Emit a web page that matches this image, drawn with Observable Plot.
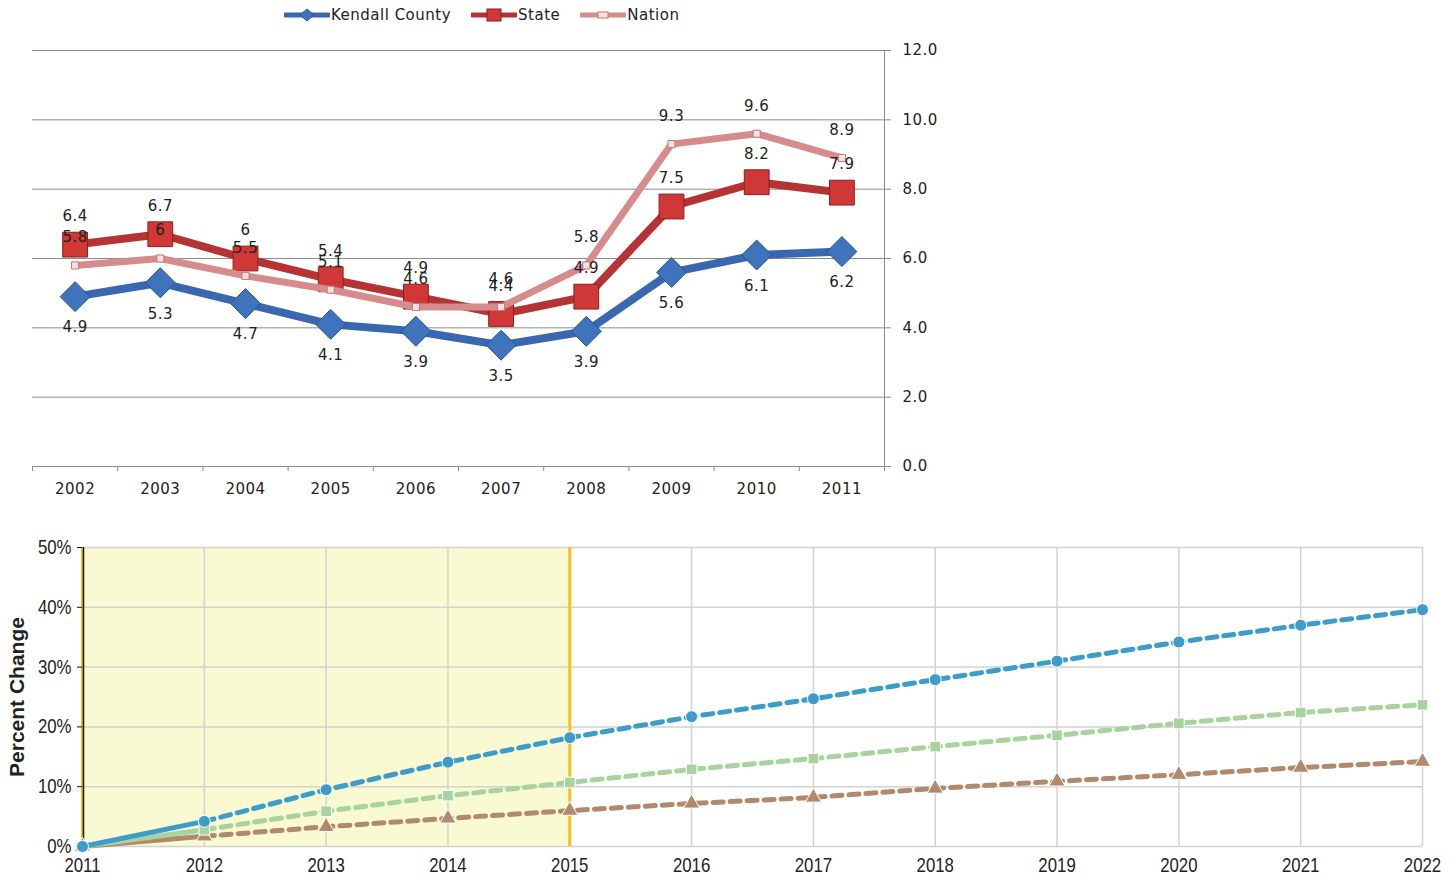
<!DOCTYPE html>
<html><head><meta charset="utf-8">
<script src="https://cdn.jsdelivr.net/npm/d3@7"></script>
<script src="https://cdn.jsdelivr.net/npm/@observablehq/plot@0.6"></script>
<style>
body{margin:0;background:#fff;width:1455px;height:876px;position:relative;overflow:hidden;font-family:"DejaVu Sans",Verdana,sans-serif}
#legend{position:absolute;top:6px;left:284px;display:flex;align-items:center;font-size:15px;letter-spacing:0.5px;color:#222;white-space:nowrap}
#legend .item{display:flex;align-items:center;margin-right:20px}
#legend svg{display:block;margin-right:1px}
#topChart{position:absolute;left:0;top:30px}
#topChart text{letter-spacing:0.5px}
#bottomChart{position:absolute;left:0;top:530px}
#bottomChart g[aria-label="y-axis label"] text{font-weight:bold;font-size:21px;font-family:"Liberation Sans",Arial,sans-serif}
</style></head><body>
<div id="legend"></div><div id="topChart"></div><div id="bottomChart"></div>
<script>
// ---------- Top chart data (unemployment rate) ----------
const years = [2002, 2003, 2004, 2005, 2006, 2007, 2008, 2009, 2010, 2011];
const kendall = [4.9, 5.3, 4.7, 4.1, 3.9, 3.5, 3.9, 5.6, 6.1, 6.2];
const state   = [6.4, 6.7, 6.0, 5.4, 4.9, 4.4, 4.9, 7.5, 8.2, 7.9];
const nation  = [5.8, 6.0, 5.5, 5.1, 4.6, 4.6, 5.8, 9.3, 9.6, 8.9];
const seriesNames = ["Kendall County", "State", "Nation"];
const rateTicks = [0, 2, 4, 6, 8, 10, 12];

// ---------- Bottom chart data (projected percent change) ----------
const projYears = [2011, 2012, 2013, 2014, 2015, 2016, 2017, 2018, 2019, 2020, 2021, 2022];
const projBlue  = [0, 4.2, 9.5, 14.1, 18.2, 21.7, 24.7, 27.9, 31.0, 34.2, 37.0, 39.6];
const projGreen = [0, 2.8, 5.9, 8.5, 10.7, 12.9, 14.7, 16.7, 18.6, 20.6, 22.4, 23.7];
const projBrown = [0, 1.7, 3.3, 4.7, 6.0, 7.2, 8.2, 9.7, 10.9, 12.0, 13.2, 14.2];
const pctTicks = [0, 10, 20, 30, 40, 50];
const historicalSpan = [2011, 2015];

// ---------- Legend ----------
const C = {k: "#3a68b0", kDot: "#3f74bd", kDotS: "#2a5394",
           s: "#b53333", sDot: "#d03838", sDotS: "#8c1f1f",
           n: "#d68c8c", nDot: "#f6e2e2", nDotS: "#c47474"};
const legendItems = [
  {name: seriesNames[0], line: C.k, marker: `<path d="M23,1 L30,7 L23,13 L16,7Z" fill="${C.kDot}" stroke="${C.kDotS}"/>`},
  {name: seriesNames[1], line: C.s, marker: `<rect x="16" y="1" width="14" height="12" fill="${C.sDot}" stroke="${C.sDotS}"/>`},
  {name: seriesNames[2], line: C.n, marker: `<rect x="18" y="4" width="10" height="6" fill="${C.nDot}" stroke="${C.nDotS}"/>`}
];
document.getElementById("legend").innerHTML = legendItems.map(it =>
  `<div class="item"><svg width="46" height="14"><line x1="1" x2="45" y1="7" y2="7" stroke="${it.line}" stroke-width="5" stroke-linecap="round"/>${it.marker}</svg><span>${it.name}</span></div>`
).join("");

// ---------- Top chart ----------
const toRows = (vals, name) => years.map((y, i) => ({year: y, value: vals[i], series: name}));
const kRows = toRows(kendall, seriesNames[0]);
const sRows = toRows(state, seriesNames[1]);
const nRows = toRows(nation, seriesNames[2]);
const bounds = d3.range(years.length + 1).map(i => years[0] - 0.5 + i);
const gridCol = "#8c8c8c";

const chartTop = Plot.plot({
  width: 960, height: 480,
  marginLeft: 32, marginRight: 76, marginTop: 20, marginBottom: 44,
  x: {type: "linear", domain: [bounds[0], bounds[bounds.length - 1]], label: null},
  y: {domain: [rateTicks[0], rateTicks[rateTicks.length - 1]], label: null},
  style: {fontFamily: "DejaVu Sans, Verdana, sans-serif", fontSize: "15px", color: "#222", background: "transparent"},
  marks: [
    Plot.ruleY(rateTicks, {stroke: gridCol, strokeWidth: 1}),
    Plot.ruleX([bounds[bounds.length - 1]], {stroke: gridCol, strokeWidth: 1}),
    Plot.axisX({ticks: years, tickSize: 0, tickPadding: 17, tickFormat: d => String(d), label: null}),
    Plot.axisX({ticks: bounds, tickSize: 5, tickFormat: () => "", stroke: gridCol, label: null}),
    Plot.axisY({anchor: "right", ticks: rateTicks, tickSize: 6, tickPadding: 12, tickFormat: d => d.toFixed(1), stroke: gridCol, label: null}),
    Plot.line(kRows, {x: "year", y: "value", stroke: C.k, strokeWidth: 8, strokeLinejoin: "round"}),
    Plot.dot(kRows, {x: "year", y: "value", symbol: "diamond2", r: 13.5, fill: C.kDot, stroke: C.kDotS, strokeWidth: 1}),
    Plot.line(sRows, {x: "year", y: "value", stroke: C.s, strokeWidth: 8, strokeLinejoin: "round"}),
    Plot.dot(sRows, {x: "year", y: "value", symbol: "square", r: 14, fill: C.sDot, stroke: C.sDotS, strokeWidth: 1}),
    Plot.line(nRows, {x: "year", y: "value", stroke: C.n, strokeWidth: 7, strokeLinejoin: "round"}),
    Plot.dot(nRows, {x: "year", y: "value", symbol: "square", r: 4, fill: C.nDot, stroke: C.nDotS, strokeWidth: 1}),
    Plot.text(kRows, {x: "year", y: "value", text: d => String(d.value), dy: 31, fill: "#222"}),
    Plot.text(sRows, {x: "year", y: "value", text: d => String(d.value), dy: -28, fill: "#222"}),
    Plot.text(nRows, {x: "year", y: "value", text: d => String(d.value), dy: -28, fill: "#222"})
  ]
});
document.getElementById("topChart").appendChild(chartTop);

// ---------- Bottom chart ----------
const toProj = (vals, name) => projYears.map((y, i) => ({year: y, value: vals[i], series: name}));
const blue = toProj(projBlue, "blue"), green = toProj(projGreen, "green"), brown = toProj(projBrown, "brown");
const PC = {blue: "#3d9dca", green: "#a8d39e", brown: "#b08a6b"};
const dash = "10,7";
const lineMarks = (rows, col, symbol, r) => [
  Plot.line(rows.slice(0, 2), {x: "year", y: "value", stroke: col, strokeWidth: 5}),
  Plot.line(rows.slice(1), {x: "year", y: "value", stroke: col, strokeWidth: 5, strokeDasharray: dash}),
  Plot.dot(rows, {x: "year", y: "value", symbol, r, fill: col, stroke: "#fff", strokeWidth: 1})
];

const chartBottom = Plot.plot({
  width: 1455, height: 346,
  marginLeft: 82, marginRight: 33, marginTop: 17, marginBottom: 30,
  x: {domain: [projYears[0], projYears[projYears.length - 1]], label: null},
  y: {domain: [pctTicks[0], pctTicks[pctTicks.length - 1]], label: null},
  style: {fontFamily: "Liberation Sans, Arial, sans-serif", fontSize: "20px", color: "#222", background: "transparent"},
  marks: [
    Plot.rect([historicalSpan], {x1: d => d[0], x2: d => d[1], fill: "#fafad2"}),
    Plot.ruleX(projYears, {stroke: "#d2d2d2", strokeWidth: 1.5}),
    Plot.ruleY(pctTicks, {stroke: "#d2d2d2", strokeWidth: 1.5}),
    Plot.ruleX(historicalSpan, {stroke: "#f6c21a", strokeWidth: 3}),
    Plot.ruleX([projYears[0]], {stroke: "#111", strokeWidth: 1.5, dx: 1}),
    Plot.axisY({ticks: pctTicks, tickSize: 5, tickPadding: 6, tickFormat: d => d + "%", stroke: "#111",
                label: "Percent Change", labelAnchor: "center", labelArrow: "none", labelOffset: 73}),
    Plot.axisX({ticks: projYears, tickSize: 0, tickPadding: 11, tickFormat: d => String(d), label: null}),
    ...lineMarks(brown, PC.brown, "triangle", 6),
    ...lineMarks(green, PC.green, "square", 6),
    ...lineMarks(blue, PC.blue, "circle", 6)
  ]
});
document.getElementById("bottomChart").appendChild(chartBottom);
// narrow the tick labels horizontally (the reference uses a condensed face)
chartBottom.querySelectorAll('g[aria-label="x-axis tick label"] text, g[aria-label="y-axis tick label"] text').forEach(t => {
  const tr = t.getAttribute("transform");
  if (tr) t.setAttribute("transform", tr + " scale(0.84,1)");
  else {
    const x = t.getAttribute("x") || 0, y = t.getAttribute("y") || 0;
    t.removeAttribute("x"); t.removeAttribute("y");
    t.setAttribute("transform", `translate(${x},${y}) scale(0.84,1)`);
  }
});
</script>
</body></html>
